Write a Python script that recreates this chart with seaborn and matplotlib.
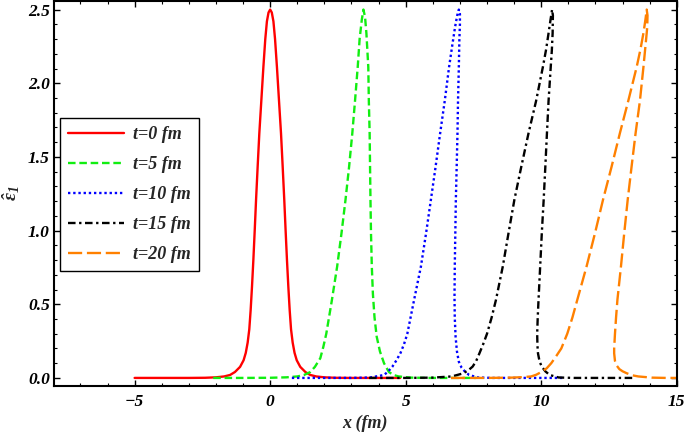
"""Energy density profile steepening: eps_1 vs x at several times."""

import matplotlib

matplotlib.use("Agg")
import matplotlib.pyplot as plt
import matplotlib.patheffects as pe
import seaborn as sns
from matplotlib import font_manager
from matplotlib.ticker import MultipleLocator

# values, ordered along each curve
x_t0 = [-5.0, -3.0, -2.4, -2.0, -1.7, -1.48, -1.3, -1.11, -0.98, -0.90, -0.83, -0.77,
        -0.72, -0.67, -0.62, -0.57, -0.52, -0.46, -0.40, -0.32, -0.25, -0.18, -0.12,
        -0.06, 0.0, 0.06, 0.12, 0.18, 0.25, 0.32, 0.40, 0.46, 0.52, 0.57, 0.62, 0.67,
        0.72, 0.77, 0.83, 0.90, 0.98, 1.11, 1.3, 1.48, 1.7, 2.0, 2.4, 3.0, 4.8]
y_t0 = [0, 0, 0.001, 0.004, 0.01, 0.02, 0.04, 0.075, 0.12, 0.17, 0.24, 0.33,
        0.46, 0.62, 0.80, 1.00, 1.21, 1.44, 1.66, 1.90, 2.11, 2.30, 2.42,
        2.48, 2.50, 2.48, 2.42, 2.30, 2.11, 1.90, 1.66, 1.44, 1.21, 1.00, 0.80, 0.62,
        0.46, 0.33, 0.24, 0.17, 0.12, 0.075, 0.04, 0.02, 0.01, 0.004, 0.001, 0, 0]

x_t5 = [-2.1, -1.0, 0.0, 0.6, 1.0, 1.25, 1.48, 1.65, 1.85, 1.96, 2.07, 2.27, 2.47,
        2.63, 2.78, 2.91, 3.03, 3.13, 3.23, 3.30, 3.38, 3.44, 3.50, 3.55, 3.62, 3.64,
        3.67, 3.685, 3.70, 3.72, 3.75, 3.79, 3.85, 3.93, 4.05, 4.2, 4.38, 4.55, 4.74,
        5.2, 5.8, 7.6]
y_t5 = [0, 0, 0.001, 0.004, 0.01, 0.02, 0.04, 0.075, 0.134, 0.21, 0.30, 0.52, 0.755,
        0.98, 1.21, 1.43, 1.66, 1.88, 2.11, 2.30, 2.43, 2.50, 2.45, 2.34, 2.11, 1.88,
        1.66, 1.43, 1.21, 0.98, 0.755, 0.57, 0.41, 0.28, 0.18, 0.10, 0.04, 0.02, 0.01,
        0.002, 0, 0]

x_t10 = [0.8, 2.0, 3.0, 3.7, 4.2, 4.36, 4.51, 4.66, 4.81, 4.94, 5.06, 5.31, 5.56,
         5.75, 5.93, 6.10, 6.27, 6.44, 6.60, 6.72, 6.82, 6.90, 6.96, 7.00, 7.00, 6.98,
         6.96, 6.93, 6.91, 6.88, 6.85, 6.83, 6.81, 6.80, 6.81, 6.84, 6.89, 6.96, 7.06,
         7.2, 7.34, 7.66, 8.2, 10.8]
y_t10 = [0, 0, 0, 0.003, 0.02, 0.045, 0.077, 0.12, 0.17, 0.23, 0.30, 0.53, 0.755,
         0.98, 1.21, 1.43, 1.66, 1.88, 2.11, 2.26, 2.38, 2.46, 2.50, 2.47, 2.40, 2.30,
         2.11, 1.88, 1.66, 1.43, 1.21, 0.98, 0.755, 0.55, 0.41, 0.28, 0.18, 0.11, 0.07,
         0.04, 0.02, 0.003, 0, 0]

x_t15 = [3.65, 5.0, 6.0, 6.7, 7.1, 7.3, 7.47, 7.6, 7.72, 7.86, 8.0, 8.17, 8.33, 8.58,
         8.79, 9.01, 9.26, 9.53, 9.81, 10.06, 10.18, 10.27, 10.35, 10.40, 10.43, 10.42,
         10.39, 10.35, 10.27, 10.21, 10.15, 10.09, 10.02, 9.96, 9.90, 9.87, 9.85, 9.86,
         9.88, 9.94, 10.02, 10.15, 10.31, 10.64, 11.2, 13.4]
y_t15 = [0, 0, 0.002, 0.01, 0.03, 0.05, 0.077, 0.115, 0.167, 0.23, 0.30, 0.41, 0.53, 0.755,
         0.98, 1.21, 1.43, 1.66, 1.88, 2.11, 2.23, 2.34, 2.44, 2.50, 2.46, 2.34,
         2.22, 2.11, 1.88, 1.66, 1.43, 1.21, 0.98, 0.755, 0.53, 0.41, 0.30, 0.22,
         0.167, 0.11, 0.077, 0.045, 0.02, 0.003, 0, 0]

x_t20 = [6.67, 8.0, 8.9, 9.3, 9.63, 9.82, 10.0, 10.2, 10.37, 10.56, 10.74, 10.96, 11.15,
         11.33, 11.67, 11.98, 12.28, 12.59, 12.90, 13.21, 13.52, 13.66, 13.77, 13.85,
         13.89, 13.92, 13.91, 13.89, 13.77, 13.64, 13.48, 13.33, 13.19, 13.06, 12.94,
         12.81, 12.76, 12.72, 12.69, 12.69, 12.72, 12.78, 12.88, 13.0, 13.15, 13.35,
         13.58, 14.07, 14.6, 16.0]
y_t20 = [0, 0, 0.002, 0.005, 0.01, 0.022, 0.04, 0.065, 0.10, 0.15, 0.20, 0.30, 0.41,
         0.53, 0.755, 0.98, 1.21, 1.43, 1.66, 1.88, 2.11, 2.23, 2.34, 2.44,
         2.50, 2.46, 2.38, 2.34, 2.11, 1.88, 1.66, 1.43, 1.21, 0.98, 0.755,
         0.53, 0.41, 0.30, 0.20, 0.167, 0.115, 0.085, 0.06, 0.045, 0.032, 0.018,
         0.01, 0.002, 0, 0]

labels = ["t=0 fm", "t=5 fm", "t=10 fm", "t=15 fm", "t=20 fm"]
colors = ["#ff0000", "#11ee11", "#0000ff", "#000000", "#ff8000"]
linestyles = ["-", (0, (3.2, 1.6)), (0, (1.0, 1.2)), (0, (3.2, 1.5, 1.0, 1.5)), (0, (6.0, 2.0))]


def bold_effect():
    """Fake a heavier stroke if no real bold italic serif is installed."""
    fp = font_manager.FontProperties(family="Liberation Serif", weight="bold", style="italic")
    path = font_manager.findfont(fp)
    if "bold" in path.lower():
        return []
    return [pe.withStroke(linewidth=0.7, foreground="black")]


def plot_profiles(save_path: str = "out.png"):
    sns.set_theme(style="ticks")
    plt.rcParams["font.family"] = ["Liberation Serif", "DejaVu Serif"]
    plt.rcParams["font.weight"] = "bold"
    plt.rcParams["font.style"] = "italic"
    plt.rcParams["mathtext.fontset"] = "custom"
    plt.rcParams["mathtext.rm"] = "Liberation Serif:bold:italic"
    plt.rcParams["mathtext.it"] = "Liberation Serif:bold:italic"
    plt.rcParams["mathtext.bf"] = "Liberation Serif:bold:italic"
    effects = bold_effect()

    fig, ax = plt.subplots(figsize=(6.85, 4.38), dpi=100)
    fig.subplots_adjust(left=0.079, right=0.988, top=0.997, bottom=0.119)

    curves = [(x_t0, y_t0), (x_t5, y_t5), (x_t10, y_t10), (x_t15, y_t15), (x_t20, y_t20)]
    for (xs, ys), lab, col, ls in zip(curves, labels, colors, linestyles):
        sns.lineplot(
            x=xs, y=ys, sort=False, estimator=None, ax=ax,
            color=col, linewidth=1.7, linestyle=ls, label=lab,
        )

    ax.set_xlim(-7.97, 15.0)
    ax.set_ylim(-0.054, 2.556)
    ax.xaxis.set_major_locator(MultipleLocator(5))
    ax.xaxis.set_minor_locator(MultipleLocator(1))
    ax.yaxis.set_major_locator(MultipleLocator(0.5))
    ax.yaxis.set_minor_locator(MultipleLocator(0.1))
    ax.tick_params(which="both", direction="in", top=True, right=True, colors="black")
    ax.tick_params(which="major", length=4, width=1.0)
    ax.tick_params(which="minor", length=2.2, width=0.8)
    ax.tick_params(axis="x", pad=6, labelsize=12.5)
    ax.tick_params(axis="y", pad=3, labelsize=12.5)
    for sp in ax.spines.values():
        sp.set_linewidth(1.5)
        sp.set_color("black")

    ax.set_xlabel("x (fm)", fontsize=13, fontweight="bold", fontstyle="italic")
    ax.xaxis.set_label_coords(0.5, -0.076)
    ax.set_ylabel(r"$\hat{\varepsilon}_{1}$", fontsize=14)
    ax.yaxis.set_label_coords(-0.052, 0.5)

    leg = ax.legend(
        loc="upper left", bbox_to_anchor=(0.0096, 0.696), borderaxespad=0,
        frameon=True, fancybox=False, edgecolor="black", framealpha=1,
        handlelength=3.1, labelspacing=0.72, borderpad=0.45, handletextpad=0.5,
        prop={"family": ["Liberation Serif", "DejaVu Serif"], "weight": "bold",
              "style": "italic", "size": 13},
    )
    leg.get_frame().set_linewidth(1.0)

    texts = ax.get_xticklabels() + ax.get_yticklabels() + leg.get_texts()
    texts += [ax.xaxis.label, ax.yaxis.label]
    for t in texts:
        t.set_fontweight("bold")
        t.set_path_effects(effects)

    plt.savefig(save_path, dpi=100)
    plt.close()


if __name__ == "__main__":
    plot_profiles("out.png")
